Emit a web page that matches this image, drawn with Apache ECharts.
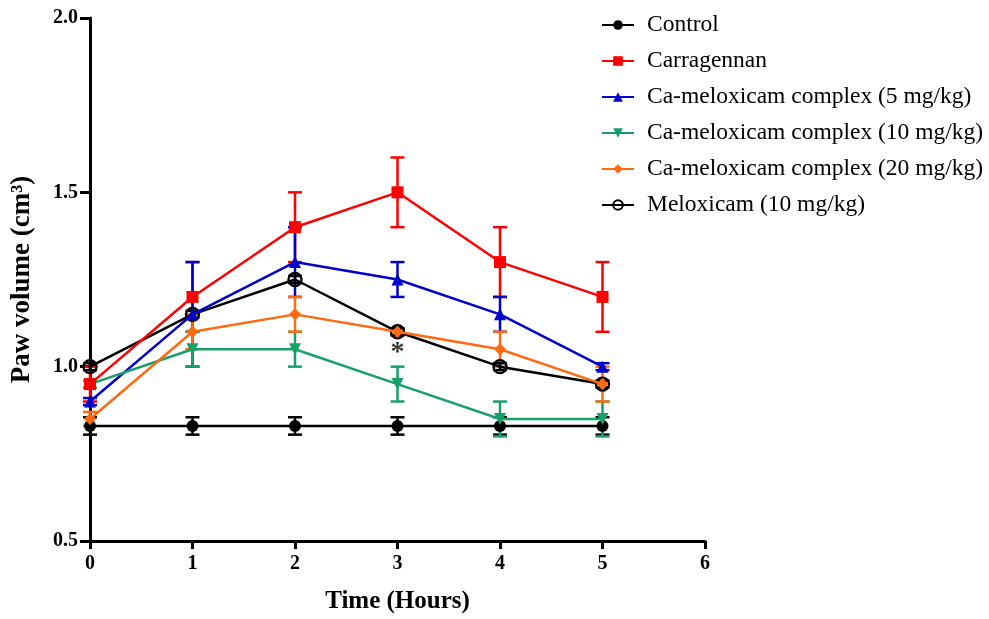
<!DOCTYPE html>
<html><head><meta charset="utf-8">
<script src="https://cdn.jsdelivr.net/npm/echarts@6/dist/echarts.min.js"></script>
<style>html,body{margin:0;padding:0;background:#fff}#c{width:989px;height:619px}</style>
</head><body><div id="c"></div>
<script>
const hours = [0, 1, 2, 3, 4, 5];
const seriesNames = ["Control", "Carragennan", "Ca-meloxicam complex (5 mg/kg)", "Ca-meloxicam complex (10 mg/kg)", "Ca-meloxicam complex (20 mg/kg)", "Meloxicam (10 mg/kg)"];
const control = [0.83, 0.83, 0.83, 0.83, 0.83, 0.83];
const controlErr = [0.025, 0.025, 0.025, 0.025, 0.025, 0.025];
const carrageenan = [0.95, 1.2, 1.4, 1.5, 1.3, 1.2];
const carrageenanErr = [0.05, 0.1, 0.1, 0.1, 0.1, 0.1];
const cm5 = [0.9, 1.15, 1.3, 1.25, 1.15, 1.0];
const cm5Err = [0.01, 0.15, 0.1, 0.05, 0.05, 0.01];
const cm10 = [0.95, 1.05, 1.05, 0.95, 0.85, 0.85];
const cm10Err = [0.01, 0.05, 0.05, 0.05, 0.05, 0.05];
const cm20 = [0.85, 1.1, 1.15, 1.1, 1.05, 0.95];
const cm20Err = [0.02, 0.05, 0.05, 0.01, 0.05, 0.05];
const melox = [1.0, 1.15, 1.25, 1.1, 1.0, 0.95];
const meloxErr = [0.01, 0.01, 0.01, 0.01, 0.01, 0.01];
const yTicks = [0.5, 1.0, 1.5, 2.0];
const xTicks = [0, 1, 2, 3, 4, 5, 6];
const annotations = [{x: 3, y: 1.04, text: "*"}];

const colors = ["#000000", "#ff0000", "#0000cc", "#18a06a", "#ff6a10", "#000000"];
const values = [control, carrageenan, cm5, cm10, cm20, melox];
const errs = [controlErr, carrageenanErr, cm5Err, cm10Err, cm20Err, meloxErr];
const symbols = ["circle", "rect", "triangle", "triangle", "diamond", "circle"];
const symbolSizes = [12, 12, 12, 12, 12, 13];
const rotates = [0, 0, 0, 180, 0, 0];
const zs = [4, 6, 5, 5, 6, 4];
const serif = "'Liberation Serif','DejaVu Serif',serif";

function errSeries(i) {
  return {
    type: 'custom', name: 'err_' + i, z: 3, silent: true,
    data: hours.map((h, k) => [h, values[i][k] - errs[i][k], values[i][k] + errs[i][k]]),
    renderItem: function (params, api) {
      const lo = api.coord([api.value(0), api.value(1)]);
      const hi = api.coord([api.value(0), api.value(2)]);
      const w = 7;
      const st = {stroke: colors[i], lineWidth: 2.5, fill: null};
      return {type: 'group', children: [
        {type: 'line', shape: {x1: lo[0], y1: lo[1], x2: hi[0], y2: hi[1]}, style: st},
        {type: 'line', shape: {x1: lo[0] - w, y1: lo[1], x2: lo[0] + w, y2: lo[1]}, style: st},
        {type: 'line', shape: {x1: hi[0] - w, y1: hi[1], x2: hi[0] + w, y2: hi[1]}, style: st}
      ]};
    }
  };
}

const series = [];
for (let i = 0; i < 6; i++) series.push(errSeries(i));
for (let i = 0; i < 6; i++) {
  series.push({
    type: 'line', name: seriesNames[i], z: zs[i],
    data: hours.map((h, k) => [h, values[i][k]]),
    symbol: symbols[i], symbolSize: symbolSizes[i], symbolRotate: rotates[i],
    showAllSymbol: true, color: colors[i],
    lineStyle: {color: colors[i], width: 2.5},
    itemStyle: i === 5
      ? {color: 'rgba(255,255,255,0)', borderColor: colors[i], borderWidth: 2.4}
      : {color: colors[i], borderWidth: 0},
    emphasis: {disabled: true}
  });
}
series.push({
  type: 'scatter', name: 'annot', z: 7, silent: true, symbolSize: 0,
  data: annotations.map(a => ({value: [a.x, a.y], label: {formatter: a.text}})),
  label: {show: true, position: 'inside', fontFamily: serif, fontSize: 28, fontWeight: 'bold', color: '#000'}
});

const chart = echarts.init(document.getElementById('c'), null, {renderer: 'canvas'});
chart.setOption({
  animation: false,
  backgroundColor: '#fff',
  grid: {left: 90, right: 284, top: 18, bottom: 76, containLabel: false},
  legend: {
    data: seriesNames.map(n => ({name: n})),
    orient: 'vertical', left: 596, top: 8,
    itemWidth: 32, itemHeight: 12, itemGap: 12,
    textStyle: {fontFamily: serif, fontSize: 23.5, color: '#000', padding: [0, 0, 0, 8]},
    selectedMode: false
  },
  xAxis: {
    type: 'value', min: 0, max: 6, interval: 1,
    name: 'Time (Hours)', nameLocation: 'middle', nameGap: 48,
    nameTextStyle: {fontFamily: serif, fontSize: 25, fontWeight: 'bold', color: '#000'},
    axisLine: {lineStyle: {color: '#000', width: 3}},
    axisTick: {length: 8, lineStyle: {color: '#000', width: 3}},
    axisLabel: {fontFamily: serif, fontSize: 20, fontWeight: 'bold', color: '#000', margin: 13,
      formatter: v => xTicks.includes(v) ? String(v) : ''},
    splitLine: {show: false}
  },
  yAxis: {
    type: 'value', min: 0.5, max: 2.0, interval: 0.5,
    name: 'Paw volume (cm³)', nameLocation: 'middle', nameGap: 54, nameRotate: 90,
    nameTextStyle: {fontFamily: serif, fontSize: 27, fontWeight: 'bold', color: '#000'},
    axisLine: {show: true, lineStyle: {color: '#000', width: 3}},
    axisTick: {show: true, length: 10, lineStyle: {color: '#000', width: 3}},
    axisLabel: {fontFamily: serif, fontSize: 20, fontWeight: 'bold', color: '#000', margin: 12,
      formatter: v => yTicks.some(t => Math.abs(t - v) < 1e-9) ? v.toFixed(1) : ''},
    splitLine: {show: false}
  },
  series: series
});
</script></body></html>
